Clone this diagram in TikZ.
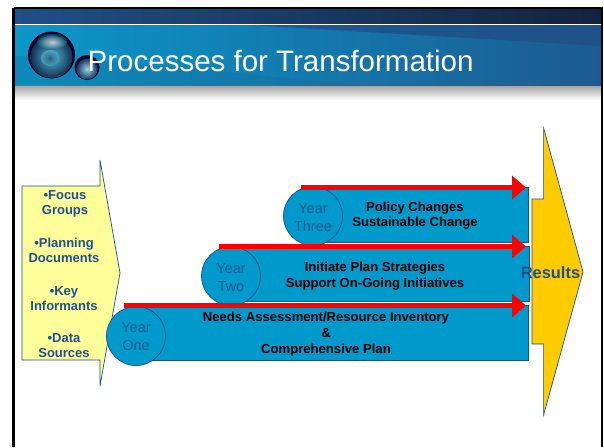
\documentclass[tikz,border=0pt]{standalone}
\usepackage{fontspec}
\setmainfont{Liberation Sans}
\usetikzlibrary{arrows.meta,shadings}
\definecolor{barblue}{HTML}{0099CC}
\definecolor{linkblue}{HTML}{1F4F8F}
\definecolor{paleyellow}{HTML}{FFFF99}
\definecolor{gold}{HTML}{FFCC00}
\definecolor{hdark}{HTML}{1F4F85}
\definecolor{hdarker}{HTML}{12233F}
\definecolor{hteal}{HTML}{0A98C8}
\definecolor{hnavy}{HTML}{1C5A92}
\tikzset{
 x=1pt,y=-1pt,
 yearbar/.style={fill=barblue,draw=linkblue,line width=0.7pt},
 yearcircle/.style={circle,fill=barblue,draw=linkblue,line width=0.7pt,minimum size=59pt,inner sep=0pt},
 yeartext/.style={align=center,text=linkblue!85!barblue,font=\fontsize{14.5}{18}\selectfont,inner sep=0pt},
 redarrow/.style={draw=red,line width=4.5pt,-{Triangle[length=14pt,width=23pt]}},
 bartext/.style={align=center,font=\fontsize{13.1}{16}\selectfont\bfseries,text=black,inner sep=0pt},
 inputtext/.style={align=center,font=\fontsize{13}{15.3}\selectfont\bfseries,text=linkblue,inner sep=0pt},
 bigarrow/.style={draw=linkblue,line width=0.7pt},
}
\begin{document}
\begin{tikzpicture}
\useasboundingbox (0,0) rectangle (604,447);
\fill[white] (0,0) rectangle (604,447);
% header
\shade[left color=hdark,right color=hdarker] (15,9) rectangle (601,23);
\shade[left color=hteal,right color=hnavy] (15,25) rectangle (601,85);
\fill[hdark,opacity=.8] (250,25) -- (601,25) -- (601,46) -- cycle;
\fill[hnavy!70!hteal,opacity=.35] (15,56) .. controls (120,58) and (200,72) .. (370,85) -- (15,85) -- cycle;
\shade[top color=black!35,bottom color=white] (15,86) rectangle (601,100);
% globes
\fill[black!85!blue] (51.5,55) circle (23.5);
\shade[inner color=hteal!70!white,outer color=hdark!60!black] (51.5,57) circle (21);
\shade[inner color=white,outer color=hteal!60!black,opacity=.7] (52,42) ellipse (15 and 8);
\shade[inner color=hdark!60!black,outer color=hteal!70!white,opacity=.6] (50,58) ellipse (9 and 8);
\fill[black!85!blue] (87,67.5) circle (12.5);
\shade[inner color=white!60!hteal,outer color=hdark!70!black] (87,69) circle (10.5);
% title
\node[anchor=west,text=white,font=\fontsize{29.5}{34}\selectfont,inner sep=0pt] (title) at (87.5,60.5) {Processes for Transformation};
% frame
\draw[black,line width=2.5pt] (13.5,8) -- (602,8) -- (602,447) (13.5,8) -- (13.5,447);
% left arrow
\draw[bigarrow,fill=paleyellow] (22,186) -- (100,186) -- (100,160) -- (120,273) -- (100,386) -- (100,360) -- (22,360) -- cycle;
\node[inputtext] (n1) at (65,204) {•Focus\\Groups};
\node[inputtext] (n2) at (64,250.5) {•Planning\\Documents};
\node[inputtext] (n3) at (64,298.5) {•Key\\Informants};
\node[inputtext] (n4) at (64,345.5) {•Data\\Sources};
% bars
\draw[yearbar] (135,305) rectangle (528.5,360);
\draw[yearbar] (240,246) rectangle (529.5,301);
\draw[yearbar] (320,187) rectangle (528.5,242);
% circles
\node[yearcircle] (y3) at (313,216) {};
\node[yearcircle] (y2) at (231,276) {};
\node[yearcircle] (y1) at (136,336) {};
\node[yeartext] (yt3) at (313,218) {Year\\Three};
\node[yeartext] (yt2) at (231,277.5) {Year\\Two};
\node[yeartext] (yt1) at (136,336.5) {Year\\One};
% red arrows
\coordinate (r3a) at (301,187.5); \coordinate (r3b) at (526,187.5);
\coordinate (r2a) at (219,246.5); \coordinate (r2b) at (526,246.5);
\coordinate (r1a) at (124,305.5); \coordinate (r1b) at (526,305.5);
\draw[redarrow] (r3a) -- (r3b);
\draw[redarrow] (r2a) -- (r2b);
\draw[redarrow] (r1a) -- (r1b);
% bar text
\node[bartext,font=\fontsize{13.1}{15.2}\selectfont\bfseries] (t3) at (415,216) {Policy Changes\\Sustainable Change};
\node[bartext] (t2) at (375,276) {Initiate Plan Strategies\\Support On-Going Initiatives};
\node[bartext] (t1) at (326,334) {Needs Assessment/Resource Inventory\\\&\\Comprehensive Plan};
% results arrow
\draw[bigarrow,fill=gold] (532,199) -- (543.6,199) -- (543.6,128) -- (583,272) -- (543.6,415) -- (543.6,344) -- (532,344) -- cycle;
\node[font=\fontsize{16.4}{18}\selectfont\bfseries,text=linkblue,inner sep=0pt] (res) at (550.5,272.5) {Results};
\end{tikzpicture}
\end{document}
